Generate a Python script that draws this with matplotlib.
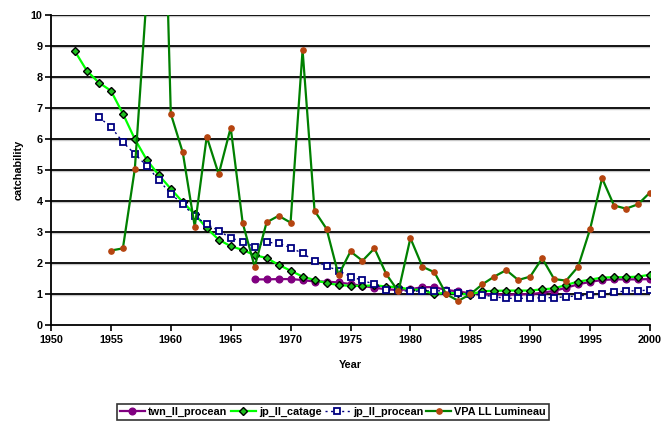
import matplotlib
matplotlib.use("Agg")
import matplotlib.pyplot as plt

plt.rcParams['font.family'] = ['Liberation Sans', 'DejaVu Sans']
plt.rcParams['font.weight'] = 'bold'

# --- data -------------------------------------------------------------
years_twn = list(range(1967, 2001))
twn_ll_procean = [1.47, 1.47, 1.48, 1.48, 1.45, 1.40, 1.40, 1.37, 1.32, 1.26,
                  1.20, 1.15, 1.13, 1.15, 1.22, 1.22, 1.13, 1.08, 1.02, 0.99,
                  0.99, 0.97, 0.99, 0.99, 1.04, 1.10, 1.20, 1.31, 1.39, 1.45,
                  1.47, 1.47, 1.47, 1.48]

years_catage = list(range(1952, 2001))
jp_ll_catage = [8.82, 8.19, 7.81, 7.55, 6.81, 5.99, 5.32, 4.83, 4.39, 3.96,
                3.57, 3.12, 2.75, 2.54, 2.42, 2.25, 2.16, 1.94, 1.75, 1.56,
                1.45, 1.35, 1.29, 1.26, 1.26, 1.28, 1.24, 1.22, 1.14, 1.13,
                1.00, 1.04, 1.02, 0.98, 1.09, 1.10, 1.11, 1.11, 1.11, 1.15,
                1.18, 1.29, 1.40, 1.46, 1.53, 1.54, 1.54, 1.56, 1.62]

years_jpp = list(range(1954, 2001))
jp_ll_procean = [6.69, 6.39, 5.89, 5.51, 5.13, 4.67, 4.23, 3.89, 3.50, 3.25,
                 3.04, 2.80, 2.69, 2.52, 2.67, 2.63, 2.49, 2.31, 2.07, 1.90,
                 1.75, 1.56, 1.44, 1.31, 1.13, 1.12, 1.08, 1.10, 1.10, 1.10,
                 1.04, 0.99, 0.97, 0.91, 0.86, 0.86, 0.86, 0.88, 0.88, 0.91,
                 0.94, 0.97, 1.00, 1.05, 1.10, 1.10, 1.13]

years_vpa = list(range(1955, 2001))
vpa_ll_lumineau = [2.40, 2.47, 5.04, 10.7, 21.0, 6.81, 5.56, 3.17, 6.07, 4.86,
                   6.36, 3.29, 1.88, 3.31, 3.52, 3.30, 8.86, 3.68, 3.10, 1.61,
                   2.37, 2.07, 2.47, 1.63, 1.08, 2.80, 1.88, 1.70, 0.99, 0.78,
                   0.99, 1.31, 1.56, 1.77, 1.45, 1.56, 2.15, 1.48, 1.43, 1.88,
                   3.09, 4.73, 3.85, 3.75, 3.89, 4.27]

x_ticks = [1950, 1955, 1960, 1965, 1970, 1975, 1980, 1985, 1990, 1995, 2000]
y_ticks = list(range(0, 11))

# --- figure -----------------------------------------------------------
fig = plt.figure(figsize=(6.61, 4.21), dpi=100)
ax = fig.add_axes([51 / 661, 1 - 325 / 421, 599 / 661, (325 - 14.7) / 421])

# horizontal gridlines with a faint grey shadow underneath
for y in y_ticks[1:]:
    ax.axhline(y - 0.035, color='#c8c8c8', lw=1.0, zorder=0.5)
    ax.axhline(y, color='black', lw=1.3, zorder=1)

ax.plot(years_twn, twn_ll_procean, color='#800080', lw=1.6, marker='o',
        ms=4.8, mfc='#800080', mec='#800080', label='twn_ll_procean', zorder=3)
ax.plot(years_catage, jp_ll_catage, color='#00ff00', lw=1.6, marker='D',
        ms=4.2, mfc='#1fbf1f', mec='black', mew=1.0, label='jp_ll_catage',
        zorder=4)
ax.plot(years_jpp, jp_ll_procean, color='#000080', lw=1.0, ls=(0, (1.5, 2.5)),
        marker='s', ms=4.6, mfc='white', mec='#000080', mew=1.3,
        label='jp_ll_procean', zorder=5)
ax.plot(years_vpa, vpa_ll_lumineau, color='#008000', lw=1.6, marker='o',
        ms=3.8, mfc='#b5440f', mec='#b5440f', label='VPA LL Lumineau',
        zorder=6)

ax.set_xlim(1950, 2000)
ax.set_ylim(0, 10)
ax.set_xticks(x_ticks)
ax.set_yticks(y_ticks)
ax.tick_params(axis='both', labelsize=7.8, direction='out', length=4,
               width=1.2, color='black')
ax.tick_params(axis='x', pad=3)
ax.tick_params(axis='y', pad=2)
for lab in ax.get_xticklabels() + ax.get_yticklabels():
    lab.set_fontweight('bold')

for side in ('top', 'right'):
    ax.spines[side].set_visible(False)
for side in ('left', 'bottom'):
    ax.spines[side].set_linewidth(1.3)
    ax.spines[side].set_color('black')

ax.set_xlabel('Year', fontsize=7.8, fontweight='bold', labelpad=11)
ax.set_ylabel('catchability', fontsize=7.8, fontweight='bold', labelpad=5)

leg = fig.legend(loc='lower center', bbox_to_anchor=(333 / 661, 1 / 421),
                 ncol=4, fontsize=7.8, frameon=True, fancybox=False,
                 handlelength=2.3, handletextpad=0.3, columnspacing=0.3,
                 borderpad=0.25, borderaxespad=0)
leg.get_frame().set_edgecolor('black')
leg.get_frame().set_linewidth(1.2)
for t in leg.get_texts():
    t.set_fontweight('bold')

fig.savefig('out.png', dpi=100)
